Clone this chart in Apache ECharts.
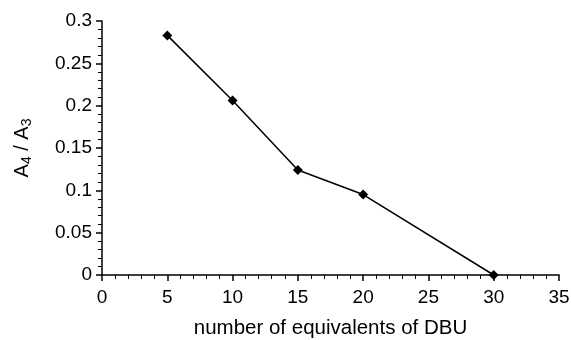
<!DOCTYPE html>
<html><head><meta charset="utf-8">
<script src="https://cdn.jsdelivr.net/npm/echarts@6/dist/echarts.min.js"></script>
<style>html,body{margin:0;padding:0;background:#fff}#c{width:571px;height:340px}</style>
</head><body><div id="c"></div>
<script>
const xValues = [5, 10, 15, 20, 30];
const yValues = [0.283, 0.206, 0.124, 0.095, 0.0];
const xLabel = 'number of equivalents of DBU';

const chart = echarts.init(document.getElementById('c'), null, {renderer: 'canvas'});
const font = 'Liberation Sans, Arial, sans-serif';
chart.setOption({
  animation: false,
  backgroundColor: '#fff',
  grid: {left: 102, right: 12, top: 21, bottom: 65, containLabel: false, outerBoundsMode: 'none'},
  xAxis: {
    type: 'value', min: 0, max: 35, interval: 5,
    name: xLabel, nameLocation: 'middle', nameGap: 43,
    nameTextStyle: {fontFamily: font, fontSize: 20.5, color: '#000'},
    axisLine: {show: true, onZero: false, lineStyle: {color: '#000', width: 1.5}},
    axisTick: {show: true, length: 6, lineStyle: {color: '#000', width: 1.5}},
    minorTick: {show: true, splitNumber: 5, length: 4, lineStyle: {color: '#000', width: 1}},
    axisLabel: {fontFamily: font, fontSize: 19, color: '#000', margin: 13},
    splitLine: {show: false}
  },
  yAxis: {
    type: 'value', min: 0, max: 0.3, interval: 0.05,
    name: '{m|A}{s|4}{m| / A}{s|3}', nameLocation: 'middle', nameGap: 68, nameRotate: 90,
    nameTextStyle: {
      fontFamily: font, fontSize: 20, color: '#000',
      rich: {m: {fontFamily: font, fontSize: 20, color: '#000'},
             s: {fontFamily: font, fontSize: 14, color: '#000', verticalAlign: 'bottom', padding: [9,0,0,0]}}
    },
    axisLine: {show: true, onZero: false, lineStyle: {color: '#000', width: 1.5}},
    axisTick: {show: true, length: 6, lineStyle: {color: '#000', width: 1.5}},
    minorTick: {show: true, splitNumber: 5, length: 4, lineStyle: {color: '#000', width: 1}},
    axisLabel: {fontFamily: font, fontSize: 19, color: '#000', margin: 10,
      formatter: v => String(Math.round(v*100)/100)},
    splitLine: {show: false}
  },
  series: [{
    type: 'line',
    data: xValues.map((x, i) => [x, yValues[i]]),
    symbol: 'diamond', symbolSize: 10,
    lineStyle: {color: '#000', width: 1.5},
    itemStyle: {color: '#000'},
    clip: false
  }]
});
</script></body></html>
